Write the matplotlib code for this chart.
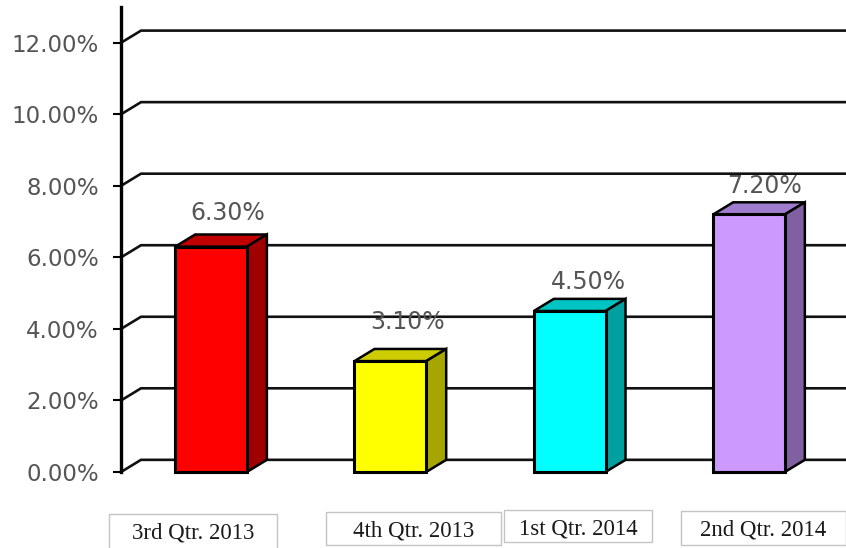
import matplotlib
matplotlib.use('Agg')
import matplotlib.pyplot as plt
from matplotlib.patches import Polygon, Rectangle
from matplotlib.transforms import IdentityTransform

# values
quarters = ['3rd Qtr. 2013', '4th Qtr. 2013', '1st Qtr. 2014', '2nd Qtr. 2014']
values = [6.3, 3.1, 4.5, 7.2]
value_labels = ['6.30%', '3.10%', '4.50%', '7.20%']
y_ticks = [0, 2, 4, 6, 8, 10, 12]

front_colors = ['#ff0000', '#ffff00', '#00ffff', '#cc99ff']
top_colors = ['#c00000', '#cccc00', '#00c4c4', '#a07ccc']
side_colors = ['#a00000', '#a6a600', '#00a0a0', '#8060a0']

W, H = 846, 548
bar_w = 0.4
dx, dy = 0.1115, 0.34  # depth of the fake 3d

fig = plt.figure(figsize=(W / 100, H / 100), dpi=100)
ax = fig.add_axes([121 / W, (H - 472) / H, 725 / W, 465 / H])
ax.set_xlim(-0.502, 3.541)
ax.set_ylim(0, 13.0)

# grid on the back wall, with the slanted piece next to the axis
for t in y_ticks:
    ax.plot([-0.502, -0.502 + dx, 3.541], [t, t + dy, t + dy], color='#111111', lw=1.9,
            zorder=1, clip_on=False, solid_joinstyle='miter')

pos = range(len(values))
ax.bar(pos, values, width=bar_w, color=front_colors, edgecolor='black', linewidth=2.2,
       zorder=3, clip_on=False)

for i, v in enumerate(values):
    l, r = i - bar_w / 2, i + bar_w / 2
    top = Polygon([(l, v), (l + dx, v + dy), (r + dx, v + dy), (r, v)], closed=True,
                  facecolor=top_colors[i], edgecolor='black', lw=1.8, zorder=2.5)
    side = Polygon([(r, 0), (r + dx, dy), (r + dx, v + dy), (r, v)], closed=True,
                   facecolor=side_colors[i], edgecolor='black', lw=1.8, zorder=2.5)
    ax.add_patch(top)
    ax.add_patch(side)

# value labels do not sit at the same distance from each bar
label_dx = [17, 17, 19, 16]
label_dy = [34, 39, 29, 28]
for i, v in enumerate(values):
    ax.annotate(value_labels[i], (i, v), xytext=(label_dx[i], label_dy[i]),
                textcoords='offset pixels', ha='center', va='center', fontsize=17,
                color='#555555', zorder=5)

for s in ['top', 'right', 'bottom']:
    ax.spines[s].set_visible(False)
ax.spines['left'].set_linewidth(2.4)
ax.set_xticks([])
ax.set_yticks(y_ticks)
ax.set_yticklabels(['%.2f%%' % t for t in y_ticks], fontsize=16.5, color='#555555')
ax.tick_params(axis='y', length=6, width=1.5, pad=10)
for lab in ax.get_yticklabels():
    lab.set_ha('right')

# category boxes under the chart, pasted in by hand in the original
boxes = [(109, 514, 168, 40), (326, 512, 175, 33), (504, 510, 148, 32), (681, 511, 165, 34)]
for (x0, y0, bw, bh), name in zip(boxes, quarters):
    fig.add_artist(Rectangle((x0, H - y0 - bh), bw, bh, transform=IdentityTransform(),
                             facecolor='white', edgecolor='#c4c4c4', lw=1))
    fig.text((x0 + bw / 2) / W, (H - y0 - 19) / H, name, family='Liberation Serif',
             fontsize=16.5, color='#1a1a1a', ha='center', va='center')

fig.savefig('out.png', dpi=100)
